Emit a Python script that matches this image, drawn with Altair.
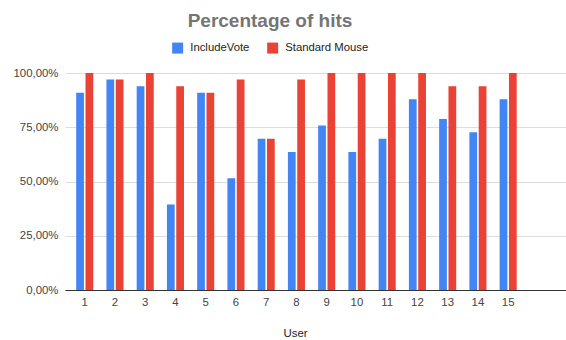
import altair as alt
import pandas as pd

users = [str(i) for i in range(1, 16)]
include_vote = [0.9091, 0.9697, 0.9394, 0.3939, 0.9091, 0.5152, 0.6970, 0.6364,
                0.7576, 0.6364, 0.6970, 0.8788, 0.7879, 0.7273, 0.8788]
standard_mouse = [1.0, 0.9697, 1.0, 0.9394, 0.9091, 0.9697, 0.6970, 0.9697,
                  1.0, 1.0, 1.0, 1.0, 0.9394, 0.9394, 1.0]
series = ["IncludeVote", "Standard Mouse"]
colors = ["#4285F4", "#EA4335"]
y_ticks = [0, 0.25, 0.5, 0.75, 1.0]

rows = []
for u, a, b in zip(users, include_vote, standard_mouse):
    rows.append({"User": u, "Series": series[0], "Value": a})
    rows.append({"User": u, "Series": series[1], "Value": b})
df = pd.DataFrame(rows)

FONT = "Liberation Sans"

chart = alt.Chart(df).mark_bar().encode(
    x=alt.X("User:N", sort=users,
            scale=alt.Scale(paddingInner=0.436, paddingOuter=1, align=0.185),
            axis=alt.Axis(title="User", labelAngle=0, ticks=False, domain=True,
                          domainColor="#333333", domainWidth=1, labelPadding=6,
                          labelFont=FONT, labelFontSize=11.4, labelColor="#444444",
                          titleFont=FONT, titleFontSize=11.4, titleFontWeight="normal",
                          titleColor="#222222", titleX=230, titleY=43,
                          titleAlign="center", titleBaseline="middle")),
    xOffset=alt.XOffset("Series:N", sort=series,
                        scale=alt.Scale(paddingInner=0.17, paddingOuter=0)),
    y=alt.Y("Value:Q", scale=alt.Scale(domain=[0, 1], nice=False),
            axis=alt.Axis(title=None, values=y_ticks, domain=False, ticks=False,
                          labelPadding=7, labelFont=FONT, labelFontSize=11.4,
                          labelColor="#444444", gridColor="#dcdcdc",
                          labelExpr="replace(format(datum.value, '.2%'), '.', ',')")),
    color=alt.Color("Series:N", sort=series,
                    scale=alt.Scale(domain=series, range=colors),
                    legend=alt.Legend(title=None, orient="none", legendX=107, legendY=-31,
                                      direction="horizontal", symbolType="square",
                                      symbolSize=121, symbolStrokeWidth=0,
                                      labelFont=FONT, labelFontSize=11.3,
                                      labelColor="#222222", columnPadding=17,
                                      labelOffset=7)),
).properties(
    width=501,
    height=217,
    title=alt.Title("Percentage of hits", font=FONT, fontSize=19, fontWeight="bold",
                    color="#757575", anchor="middle", dx=-45.5, dy=-7),
    autosize=alt.AutoSizeParams(type="none"),
    padding={"left": 65, "top": 73, "right": 0, "bottom": 50},
).configure_view(stroke=None)

chart.save("out.html", embed_options={"renderer": "svg", "actions": False})
